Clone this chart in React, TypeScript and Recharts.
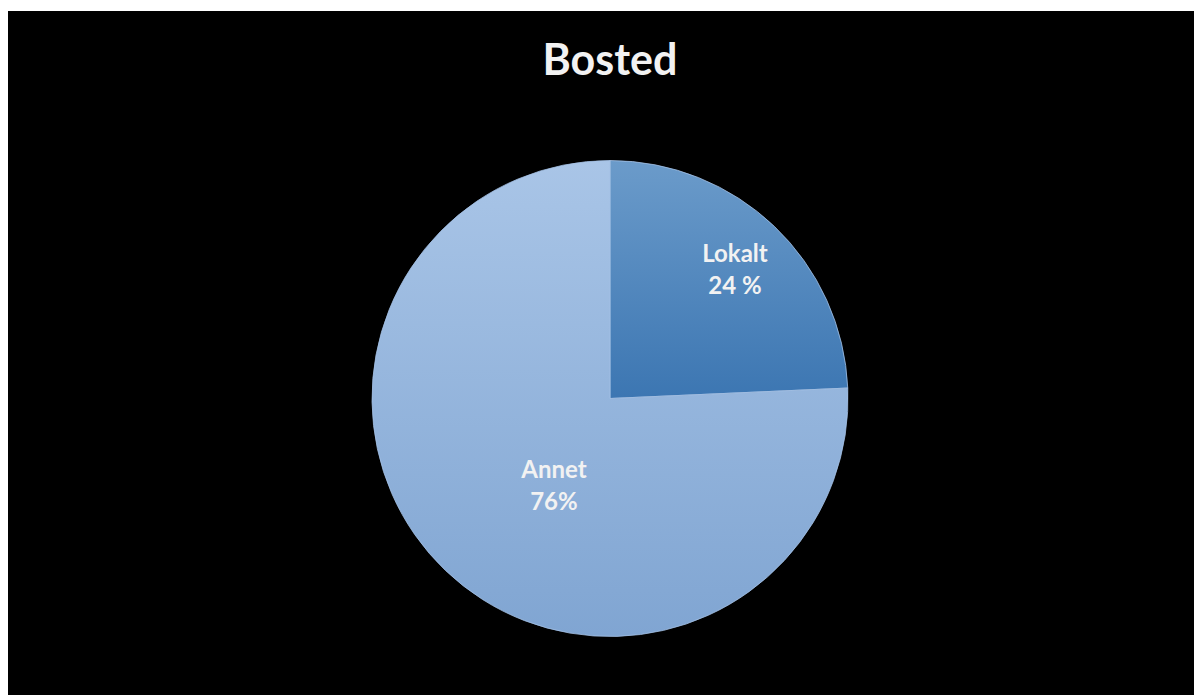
import React from "react";
import { PieChart, Pie, Cell, Customized } from "recharts";

const categories = ["Lokalt", "Annet"];
const values = [24.3, 75.7];
const labelTexts = ["24 %", "76%"];
const title = "Bosted";

const data = categories.map((name, i) => ({ name, value: values[i], pctText: labelTexts[i] }));

const W = 1194;
const H = 684;
const CX = 602;
const CY = 387.5;
const R = 238;
const FONT = "Lato, 'Open Sans', sans-serif";
const RAD = Math.PI / 180;

const labelTweak: Record<string, { f: number; da: number }> = {
  Lokalt: { f: 0.731, da: -2.2 },
  Annet: { f: 0.465, da: 13.3 },
};

const renderLabel = (props: any) => {
  const { cx, cy, midAngle, outerRadius, index } = props;
  const d = data[index];
  const t = labelTweak[d.name] || { f: 0.6, da: 0 };
  const a = (midAngle + t.da) * RAD;
  const r = outerRadius * t.f;
  const x = cx + r * Math.cos(a);
  const y = cy - r * Math.sin(a);
  return (
    <text
      x={x}
      y={y}
      textAnchor="middle"
      fill="#f2f2f2"
      fontFamily={FONT}
      fontWeight={700}
      fontSize={24}
    >
      <tspan x={x} y={y - 15.5}>{d.name}</tspan>
      <tspan x={x} y={y + 16}>{d.pctText}</tspan>
    </text>
  );
};

const Title = () => (
  <text
    x={CX}
    y={64}
    textAnchor="middle"
    fill="#f2f2f2"
    fontFamily={FONT}
    fontWeight={700}
    fontSize={43}
  >
    {title}
  </text>
);

export default function App() {
  return (
    <div style={{ marginTop: 3, width: W, height: H, background: "#000" }}>
      <PieChart width={W} height={H} margin={{ top: 0, right: 0, bottom: 0, left: 0 }}>
        <defs>
          <linearGradient id="gLokalt" x1="0" y1="0" x2="0" y2="1">
            <stop offset="0%" stopColor="#6b9bca" />
            <stop offset="100%" stopColor="#3c76b2" />
          </linearGradient>
          <linearGradient id="gAnnet" x1="0" y1="0" x2="0" y2="1">
            <stop offset="0%" stopColor="#a9c5e7" />
            <stop offset="100%" stopColor="#80a5d2" />
          </linearGradient>
        </defs>
        <Pie
          data={data}
          dataKey="value"
          nameKey="name"
          cx={CX}
          cy={CY}
          outerRadius={R}
          startAngle={90}
          endAngle={-270}
          label={renderLabel}
          labelLine={false}
          isAnimationActive={false}
          stroke="#a3c0e4"
          strokeWidth={0.8}
        >
          <Cell fill="url(#gLokalt)" />
          <Cell fill="url(#gAnnet)" />
        </Pie>
        <Customized component={Title} />
      </PieChart>
    </div>
  );
}
